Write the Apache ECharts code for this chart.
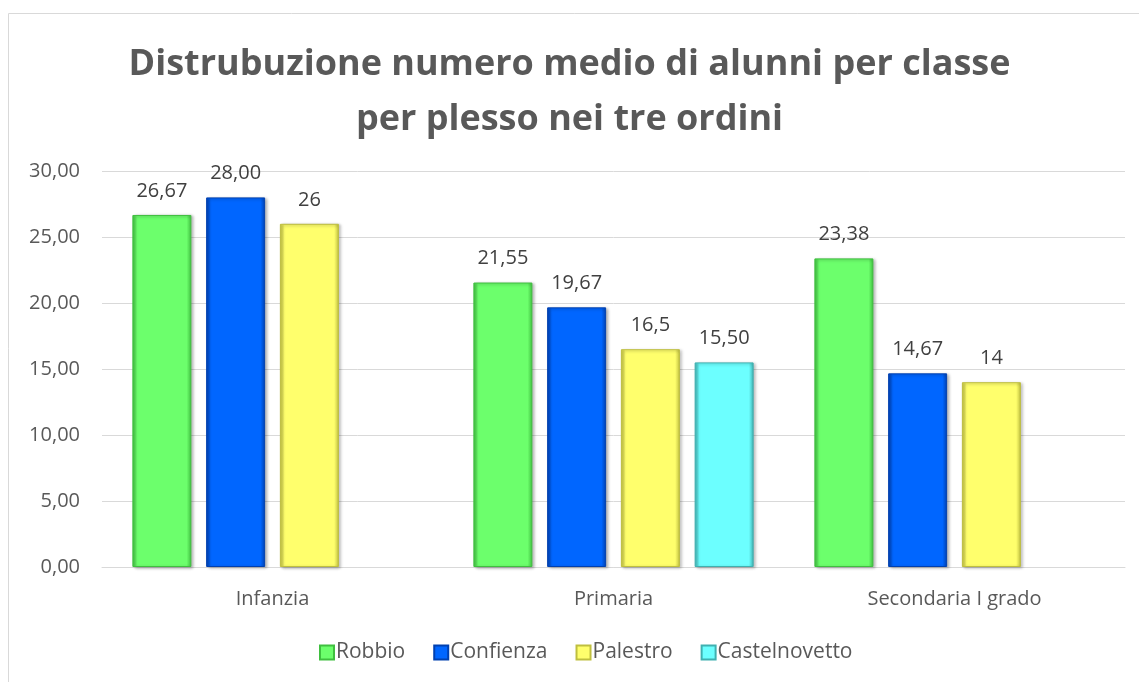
<!DOCTYPE html>
<html>
<head>
<meta charset="utf-8">
<script src="https://cdn.jsdelivr.net/npm/echarts@6/dist/echarts.min.js"></script>
<style>
  html, body { margin: 0; padding: 0; background: #fff; }
  #chart { width: 1139px; height: 682px; }
</style>
</head>
<body>
<div id="chart"></div>
<script>
const categories = ['Infanzia', 'Primaria', 'Secondaria I grado'];
const seriesNames = ['Robbio', 'Confienza', 'Palestro', 'Castelnovetto'];
const robbio = [26.67, 21.55, 23.38];
const confienza = [28.00, 19.67, 14.67];
const palestro = [26, 16.5, 14];
const castelnovetto = ['-', 15.5, '-'];
const robbioLabels = ['26,67', '21,55', '23,38'];
const confienzaLabels = ['28,00', '19,67', '14,67'];
const palestroLabels = ['26', '16,5', '14'];
const castelnovettoLabels = ['', '15,50', ''];
const yTicks = { min: 0, max: 30, interval: 5 };

const font = '"Open Sans", "Noto Sans", sans-serif';
const colors = [
    { main: '#6CFF6C', dark: '#3FBF3F' },
    { main: '#0066FF', dark: '#0040B0' },
    { main: '#FFFF6C', dark: '#BFBF3F' },
    { main: '#6CFFFF', dark: '#3FB0B0' }
];

const grad = c => new echarts.graphic.LinearGradient(0, 0, 1, 0, [
    { offset: 0, color: c.dark },
    { offset: 0.08, color: c.main },
    { offset: 0.92, color: c.main },
    { offset: 1, color: c.dark }
]);

const makeSeries = (name, data, labels, c) => ({
    name,
    type: 'bar',
    data,
    barWidth: 59,
    barGap: '25%',
    itemStyle: {
        color: grad(c),
        borderColor: c.dark,
        borderWidth: 1,
        shadowColor: 'rgba(0,0,0,0.3)',
        shadowBlur: 3,
        shadowOffsetX: 2,
        shadowOffsetY: 1
    },
    label: {
        show: true,
        position: 'top',
        distance: 14,
        color: '#404040',
        fontFamily: font,
        fontSize: 20,
        formatter: p => labels[p.dataIndex]
    }
});

const chart = echarts.init(document.getElementById('chart'));
chart.setOption({
    animation: false,
    textStyle: { fontFamily: font },
    graphic: [{
        type: 'rect',
        shape: { x: 8.5, y: 13.5, width: 1300, height: 900 },
        style: { fill: 'none', stroke: '#D9D9D9', lineWidth: 1 },
        silent: true
    }],
    title: {
        text: 'Distrubuzione numero medio di alunni per classe\nper plesso nei tre ordini',
        left: 'center',
        top: 32,
        textStyle: {
            color: '#595959',
            fontFamily: font,
            fontWeight: 'bold',
            fontSize: 36,
            lineHeight: 55
        }
    },
    legend: {
        data: seriesNames,
        top: 637,
        left: 314,
        itemWidth: 14,
        itemHeight: 14,
        itemGap: 28,
        icon: 'rect',
        textStyle: { color: '#595959', fontSize: 21, fontFamily: font, padding: [0, 0, 0, -3] }
    },
    grid: { left: 102, right: 14, top: 171, bottom: 115 },
    xAxis: {
        type: 'category',
        data: categories,
        axisTick: { show: false },
        axisLine: { lineStyle: { color: '#D9D9D9', width: 1 } },
        axisLabel: { color: '#595959', fontSize: 20, margin: 22, fontFamily: font }
    },
    yAxis: {
        type: 'value',
        min: yTicks.min,
        max: yTicks.max,
        interval: yTicks.interval,
        axisLine: { show: false },
        axisTick: { show: false },
        splitLine: { lineStyle: { color: '#D9D9D9', width: 1 } },
        axisLabel: {
            color: '#595959',
            fontSize: 20,
            margin: 22,
            fontFamily: font,
            formatter: v => v.toFixed(2).replace('.', ',')
        }
    },
    series: [
        makeSeries(seriesNames[0], robbio, robbioLabels, colors[0]),
        makeSeries(seriesNames[1], confienza, confienzaLabels, colors[1]),
        makeSeries(seriesNames[2], palestro, palestroLabels, colors[2]),
        makeSeries(seriesNames[3], castelnovetto, castelnovettoLabels, colors[3])
    ]
});
</script>
</body>
</html>
